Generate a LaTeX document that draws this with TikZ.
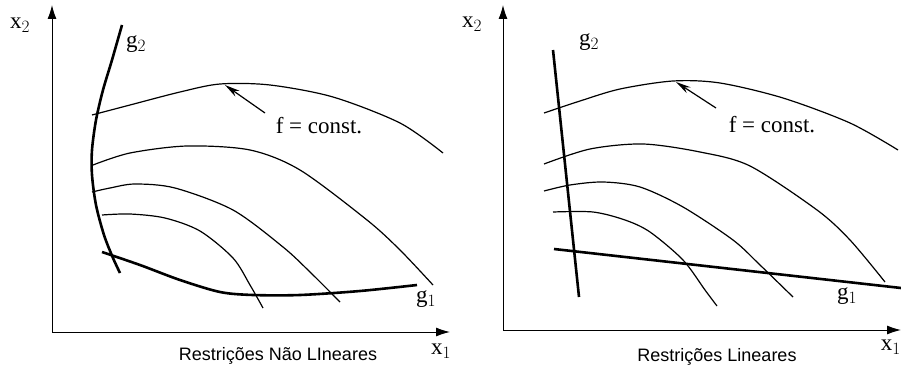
\documentclass[tikz,border=0pt]{standalone}
\usepackage{fontspec}
\setmainfont{Liberation Serif}
\setsansfont{Liberation Sans}
\usetikzlibrary{arrows.meta, arrows}

\begin{document}
\begin{tikzpicture}[x=1pt,y=-1pt,>=stealth',
    axis/.style={->,>={Latex[length=14pt,width=9pt]},line width=1pt},
    level/.style={line width=1.2pt},
    bound/.style={line width=2.6pt},
    lbl/.style={font=\fontsize{23}{23}\selectfont,inner sep=0pt},
    capt/.style={font=\sffamily\fontsize{18}{18}\selectfont,inner sep=0pt}]
    \useasboundingbox (0,0) rectangle (901,369);

    % nao lineares
    \coordinate (oL) at (52,332);
    \draw[axis] (oL) -- (52,5);
    \draw[axis] (oL) -- (450,332);
    \node[lbl] (x2L) at (20,25) {x$_2$};
    \node[lbl] (x1L) at (441,351) {x$_1$};

    \draw[bound] plot[smooth] coordinates {(122,25) (112,60) (103,90) (96,120) (92,150) (92,175) (96,205) (104,235) (113,258) (120,273)};
    \node[lbl] (g2L) at (136,44) {g$_2$};

    \draw[level] plot[smooth] coordinates {(92,115) (130,105) (180,92) (220,84) (270,85) (333,97) (400,123) (443,153)};
    \draw[level] plot[smooth] coordinates {(93,165) (130,153) (187,146) (250,150) (300,170) (367,220) (400,250) (433,285)};
    \draw[level] plot[smooth] coordinates {(92,192) (110,188) (135,184) (175,188) (233,210) (283,247) (310,272) (340,302)};
    \draw[level] plot[smooth] coordinates {(102,215) (130,214) (165,218) (200,231) (233,258) (250,285) (263,308)};

    \draw[bound] plot[smooth] coordinates {(102,252) (140,265) (180,280) (220,292) (253,295) (300,295) (360,291) (417,285)};
    \node[lbl] (g1L) at (426,299) {g$_1$};

    \coordinate (fsL) at (265,113);
    \coordinate (ftL) at (225,85);
    \draw[->,line width=1.2pt,>={Stealth[length=15pt,width=7pt]}] (fsL) -- (ftL);
    \node[lbl] (fL) at (319,126) {f = const.};
    \node[capt] (cL) at (278,356) {Restrições Não LIneares};

    % lineares
    \coordinate (oR) at (503,330);
    \draw[axis] (oR) -- (503,5);
    \draw[axis] (oR) -- (901,330);
    \node[lbl] (x2R) at (472,24) {x$_2$};
    \node[lbl,anchor=east] (x1R) at (901,347) {x$_1$};

    \coordinate (g2a) at (553,50);
    \coordinate (g2b) at (579,297);
    \draw[bound] (g2a) -- (g2b);
    \node[lbl] (g2R) at (589,42) {g$_2$};

    \draw[level] plot[smooth] coordinates {(544,113) (580,101) (620,89) (673,81) (720,83) (783,98) (850,123) (898,150)};
    \draw[level] plot[smooth] coordinates {(544,164) (590,149) (643,144) (700,152) (750,166) (817,210) (850,240) (885,282)};
    \draw[level] plot[smooth] coordinates {(544,191) (570,185) (603,182) (640,187) (683,207) (733,240) (760,265) (793,297)};
    \draw[level] plot[smooth] coordinates {(553,212) (593,212) (625,220) (650,232) (683,260) (705,290) (717,306)};

    \coordinate (g1a) at (554,249);
    \coordinate (g1b) at (901,288);
    \draw[bound] (g1a) -- (g1b);
    \node[lbl] (g1R) at (847,296) {g$_1$};

    \coordinate (fsR) at (716,108);
    \coordinate (ftR) at (676,82);
    \draw[->,line width=1.2pt,>={Stealth[length=15pt,width=7pt]}] (fsR) -- (ftR);
    \node[lbl] (fR) at (772,125) {f = const.};
    \node[capt] (cR) at (717,357) {Restrições Lineares};
\end{tikzpicture}
\end{document}
